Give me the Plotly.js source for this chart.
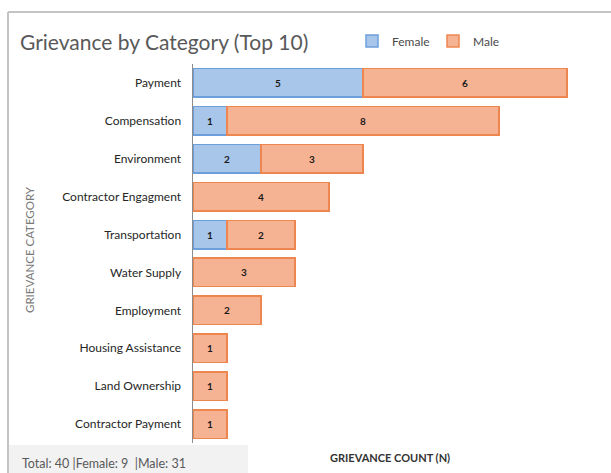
<!DOCTYPE html>
<html lang="en">
<head>
    <meta charset="UTF-8">
    <title>Grievance by Category</title>
    <script src="https://cdn.plot.ly/plotly-3.0.1.min.js"></script>
    <style>
        body { margin: 0; background: white; }
        #plot { width: 611px; height: 473px; }
    </style>
</head>
<body>
    <div id="plot"></div>
    <script>
        const categories = ['Payment', 'Compensation', 'Environment', 'Contractor Engagment',
            'Transportation', 'Water Supply', 'Employment', 'Housing Assistance',
            'Land Ownership', 'Contractor Payment'];
        const female = [5, 1, 2, null, 1, null, null, null, null, null];
        const male = [6, 8, 3, 4, 2, 3, 2, 1, 1, 1];
        const footer = 'Total: 40 |Female: 9  |Male: 31';

        const font = 'Lato, "Open Sans", sans-serif';

        function barTrace(name, values, fill, edge) {
            return {
                type: 'bar',
                orientation: 'h',
                name: name,
                y: categories,
                x: values,
                text: values.map(v => v == null ? '' : String(v)),
                textposition: 'inside',
                insidetextanchor: 'middle',
                textangle: 0,
                constraintext: 'none',
                textfont: { family: font, size: 10, color: '#1a1a1a', weight: 'bold' },
                marker: { color: fill, line: { color: edge, width: 1.5 } },
                hoverinfo: 'x+y+name'
            };
        }

        const traces = [
            barTrace('Female', female, '#a8c5ea', '#6d9fdb'),
            barTrace('Male', male, '#f6b394', '#ee8650')
        ];

        const layout = {
            width: 611,
            height: 473,
            barmode: 'stack',
            bargap: 0.25,
            margin: { l: 193, r: 10, t: 64, b: 30 },
            paper_bgcolor: 'white',
            plot_bgcolor: 'white',
            font: { family: font, color: '#333' },
            title: {
                text: 'Grievance by Category (Top 10)',
                font: { family: font, size: 21, color: '#595959' },
                x: 20 / 611, xanchor: 'left',
                y: 1 - 43 / 473, yanchor: 'middle'
            },
            showlegend: true,
            legend: {
                orientation: 'h',
                traceorder: 'normal',
                x: (352 - 193) / 408, xanchor: 'left',
                y: (443 - 41) / 379, yanchor: 'middle',
                font: { family: font, size: 12, color: '#4a4a4a' },
                entrywidth: 36,
                entrywidthmode: 'pixels',
                bgcolor: 'rgba(0,0,0,0)'
            },
            xaxis: {
                range: [0, 12],
                showticklabels: false,
                showgrid: false,
                zeroline: false,
                showline: false,
                ticks: '',
                fixedrange: true
            },
            yaxis: {
                type: 'category',
                autorange: 'reversed',
                showline: true,
                linecolor: '#8c8c8c',
                linewidth: 1.5,
                ticks: '',
                ticklabelstandoff: 8,
                tickfont: { family: font, size: 12, color: '#262626' },
                showgrid: false,
                zeroline: false,
                fixedrange: true
            },
            shapes: [
                { type: 'line', xref: 'paper', yref: 'paper',
                  x0: (8 - 193) / 408, x1: (611 - 193) / 408,
                  y0: (443 - 12) / 379, y1: (443 - 12) / 379,
                  line: { color: '#c4c4c4', width: 2 } },
                { type: 'line', xref: 'paper', yref: 'paper',
                  x0: (8 - 193) / 408, x1: (8 - 193) / 408,
                  y0: (443 - 12) / 379, y1: (443 - 473) / 379,
                  line: { color: '#c4c4c4', width: 2 } },
                { type: 'rect', xref: 'paper', yref: 'paper', layer: 'below',
                  x0: (9 - 193) / 408, x1: (248 - 193) / 408,
                  y0: (443 - 445) / 379, y1: (443 - 473) / 379,
                  fillcolor: '#f2f2f2', line: { width: 0 } }
            ],
            annotations: [
                { text: 'GRIEVANCE CATEGORY', textangle: -90, showarrow: false,
                  xref: 'paper', yref: 'paper',
                  x: (29 - 193) / 408, y: (443 - 250) / 379,
                  xanchor: 'center', yanchor: 'middle',
                  font: { family: font, size: 11.5, color: '#7a7a7a' } },
                { text: 'GRIEVANCE COUNT (N)', showarrow: false,
                  xref: 'paper', yref: 'paper',
                  x: (390 - 193) / 408, y: (443 - 457) / 379,
                  xanchor: 'center', yanchor: 'middle',
                  font: { family: font, size: 11, color: '#333', weight: 'bold' } },
                { text: footer, showarrow: false,
                  xref: 'paper', yref: 'paper',
                  x: (20 - 193) / 408, y: (443 - 463) / 379,
                  xanchor: 'left', yanchor: 'middle',
                  font: { family: font, size: 12.5, color: '#595959' } }
            ]
        };

        Plotly.newPlot('plot', traces, layout, { displayModeBar: false, staticPlot: true });
    </script>
</body>
</html>
